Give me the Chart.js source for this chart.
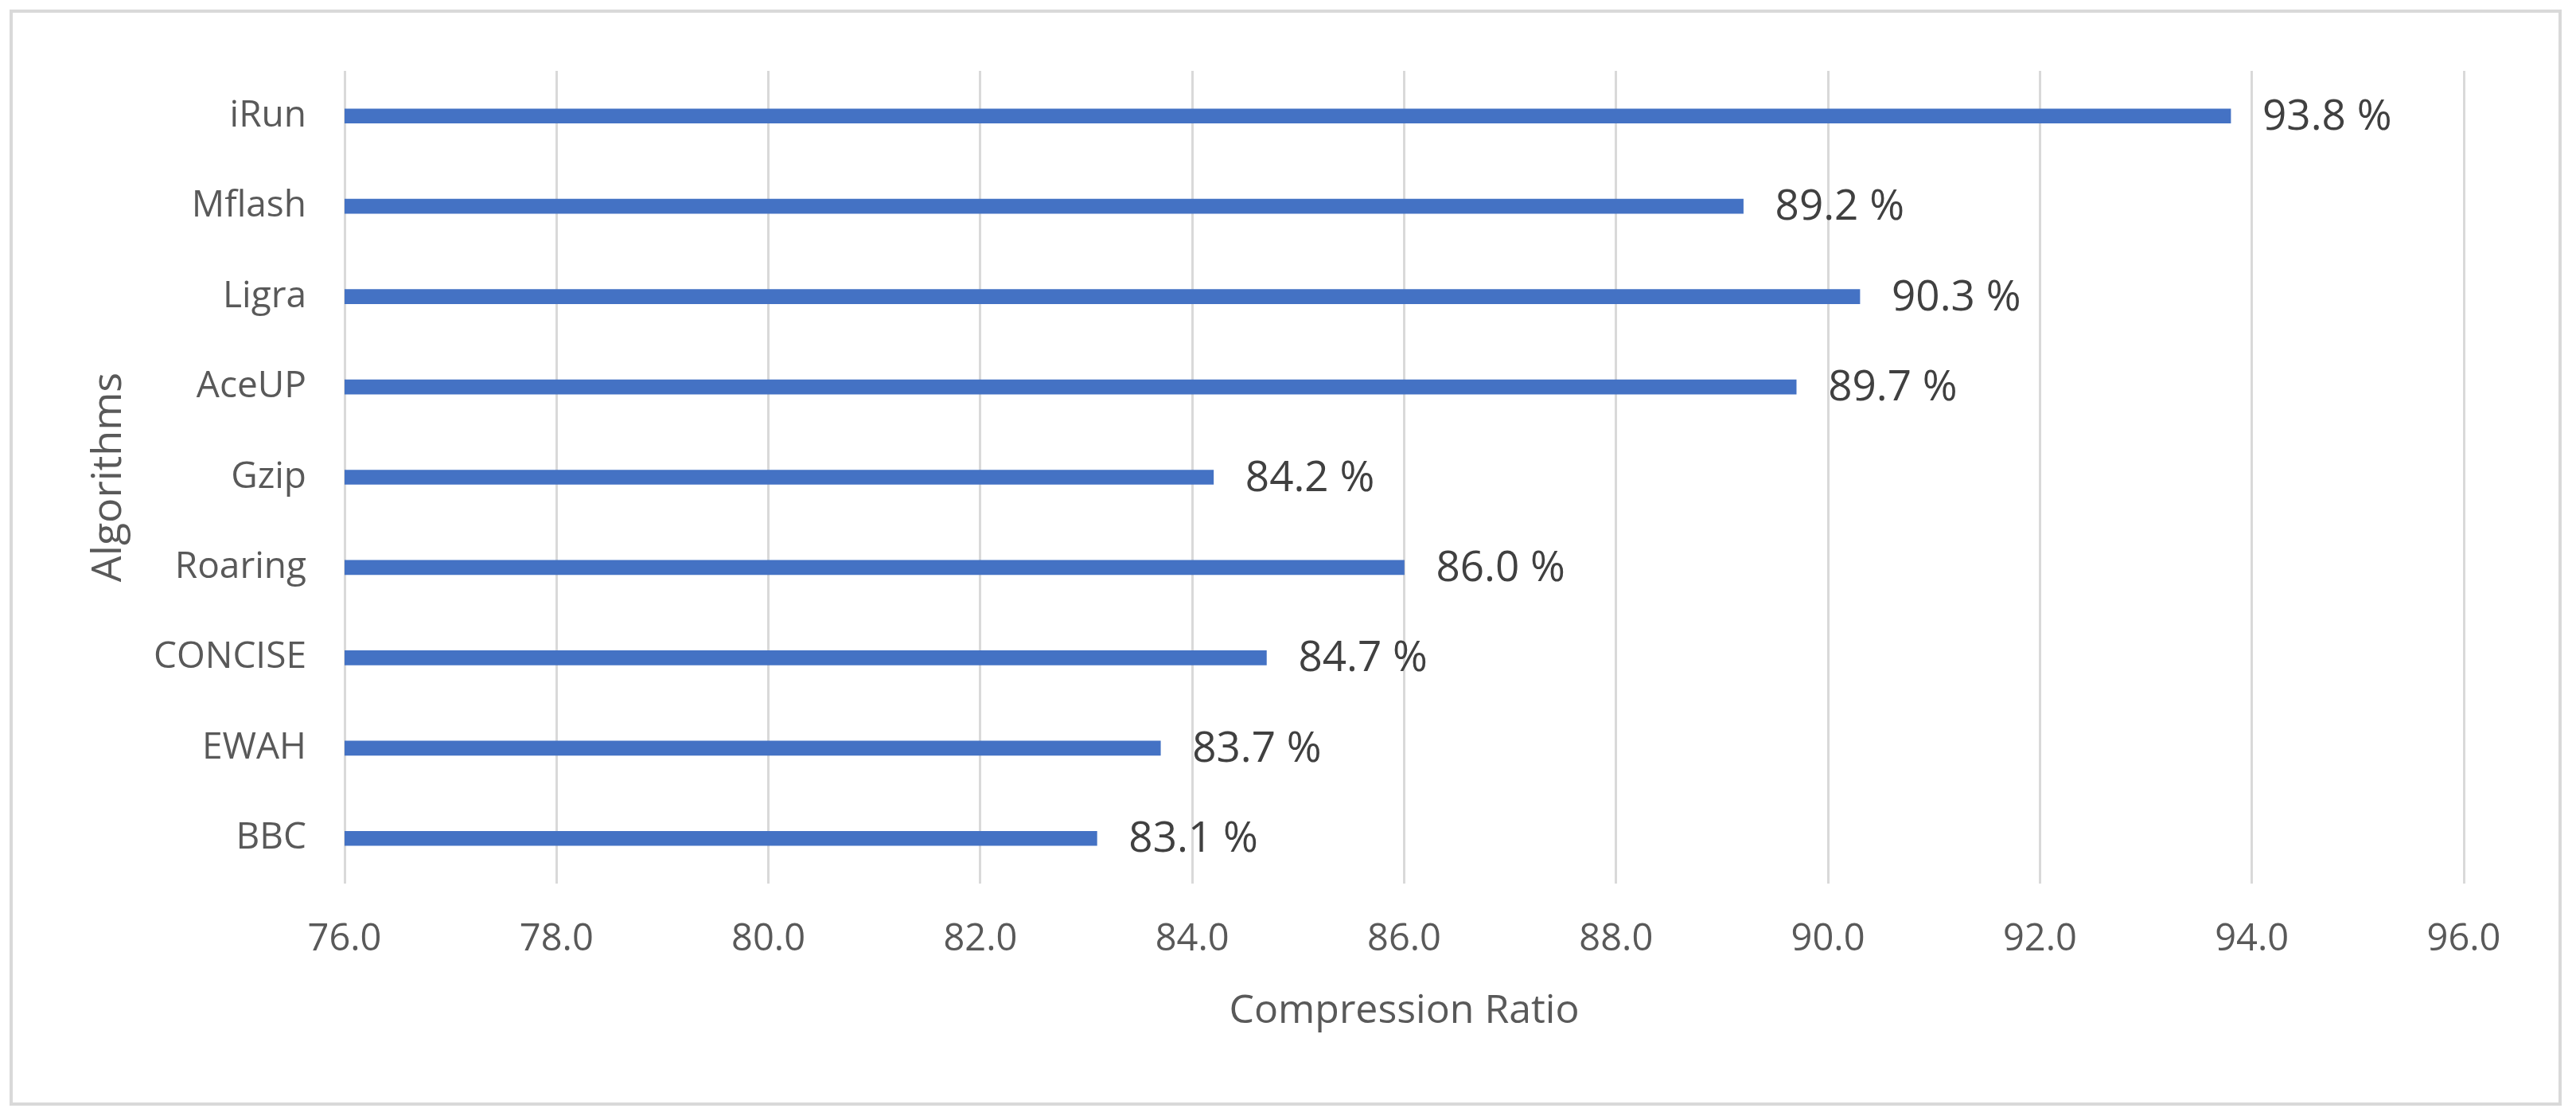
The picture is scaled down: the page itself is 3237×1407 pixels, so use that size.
<!DOCTYPE html>
<html>
<head>
<meta charset="utf-8">
<script src="https://cdn.jsdelivr.net/npm/chart.js@4.4.1/dist/chart.umd.min.js"></script>
<style>
  html, body { margin: 0; padding: 0; background: #ffffff; }
  #wrap { width: 3237px; height: 1407px; position: relative; }
</style>
</head>
<body>
<div id="wrap"><canvas id="c" width="3237" height="1407"></canvas></div>
<script>
const categories = ["iRun", "Mflash", "Ligra", "AceUP", "Gzip", "Roaring", "CONCISE", "EWAH", "BBC"];
const ratios = [93.8, 89.2, 90.3, 89.7, 84.2, 86.0, 84.7, 83.7, 83.1];
const xMin = 76;
const xMax = 96;
const xStep = 2;
const xTitle = "Compression Ratio";
const yTitle = "Algorithms";

const FONT = "'Open Sans', 'Noto Sans', sans-serif";

const frame = {
  id: 'frame',
  beforeDraw(chart) {
    const ctx = chart.ctx;
    ctx.save();
    ctx.fillStyle = '#ffffff';
    ctx.fillRect(0, 0, chart.width, chart.height);
    ctx.strokeStyle = '#d9d9d9';
    ctx.lineWidth = 4;
    ctx.strokeRect(14, 14, 3203, 1373);
    ctx.restore();
  }
};

const valueLabels = {
  id: 'valueLabels',
  afterDatasetsDraw(chart) {
    const ctx = chart.ctx;
    const meta = chart.getDatasetMeta(0);
    ctx.save();
    ctx.font = "53px " + FONT;
    ctx.fillStyle = '#404040';
    ctx.textAlign = 'left';
    ctx.textBaseline = 'middle';
    meta.data.forEach((bar, i) => {
      const v = chart.data.datasets[0].data[i];
      ctx.fillText(v.toFixed(1) + ' %', bar.x + 40, bar.y + 2);
    });
    ctx.restore();
  }
};

new Chart(document.getElementById('c'), {
  type: 'bar',
  data: {
    labels: categories,
    datasets: [{
      data: ratios,
      backgroundColor: '#4472C4',
      borderWidth: 0,
      barThickness: 18
    }]
  },
  options: {
    indexAxis: 'y',
    responsive: false,
    animation: false,
    devicePixelRatio: 1,
    layout: { padding: { top: 89, right: 141, left: 0, bottom: 0 } },
    plugins: {
      legend: { display: false },
      tooltip: { enabled: false }
    },
    scales: {
      x: {
        min: xMin,
        max: xMax,
        afterFit(scale) { scale.height = 297; },
        ticks: {
          stepSize: xStep,
          padding: 42,
          color: '#595959',
          font: { family: FONT, size: 47 },
          callback: (v) => Number(v).toFixed(1)
        },
        grid: { color: '#d9d9d9', lineWidth: 3, drawTicks: false },
        border: { display: false },
        title: {
          display: true,
          text: xTitle,
          color: '#595959',
          font: { family: FONT, size: 50 },
          padding: { top: 0, bottom: 106 }
        }
      },
      y: {
        afterFit(scale) { scale.width = 433; },
        ticks: {
          padding: 48,
          color: '#595959',
          font: { family: FONT, size: 46 }
        },
        grid: { display: false, drawTicks: false },
        border: { display: false },
        title: {
          display: true,
          text: yTitle,
          color: '#595959',
          font: { family: FONT, size: 52 },
          padding: { top: 106, bottom: 0 }
        }
      }
    }
  },
  plugins: [frame, valueLabels]
});
</script>
</body>
</html>
